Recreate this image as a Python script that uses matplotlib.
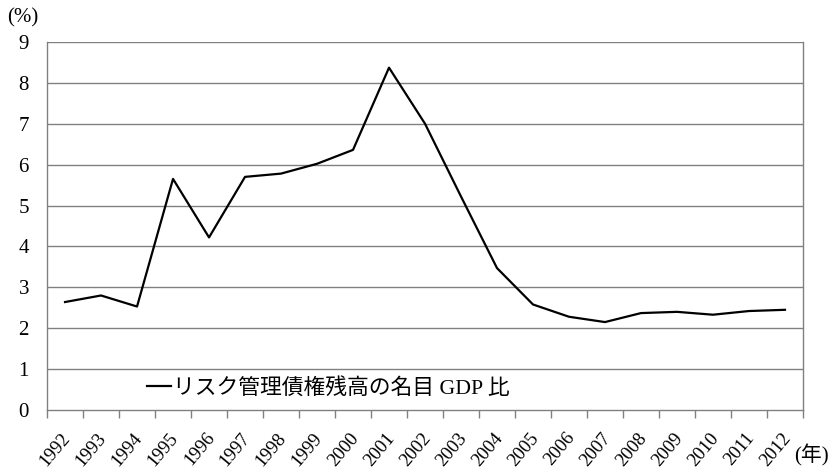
import numpy as np
import matplotlib.pyplot as plt
import matplotlib.transforms as mtrans

# data
years = [str(y) for y in range(1992, 2013)]
ratio = [2.64, 2.80, 2.53, 5.65, 4.22, 5.70, 5.78, 6.02, 6.36, 8.37, 7.00,
         5.22, 3.47, 2.58, 2.28, 2.15, 2.37, 2.40, 2.33, 2.42, 2.45]
series_label = 'リスク管理債権残高の名目 GDP 比'

fonts = ['Liberation Serif', 'Noto Sans CJK JP']
plt.rcParams['font.family'] = fonts

fig = plt.figure(figsize=(8.34, 4.74), dpi=100)
ax = fig.add_axes([0.0564, 0.135, 0.9064, 0.7766])

x = np.arange(len(years))
ax.plot(x, ratio, color='black', lw=1.6, label=series_label)

ax.set_xlim(-0.5, len(years) - 0.5)
ax.set_ylim(0, 9)
ax.set_yticks(range(0, 10))
ax.tick_params(axis='y', length=0, labelsize=15, pad=13)
for yv in range(1, 10):
    ax.axhline(yv, color='#808080', lw=1, zorder=0)

# x ticks at category boundaries, labels at centers
ax.set_xticks(np.arange(-0.5, len(years)), minor=False)
ax.set_xticklabels([])
ax.tick_params(axis='x', length=6, width=1, color='#808080', direction='out')
ax.set_xticks(x, minor=True)
ax.set_xticklabels(years, minor=True, rotation=50, ha='right',
                   rotation_mode='anchor', fontsize=13.5)
ax.tick_params(axis='x', which='minor', length=0, pad=14)
shift = mtrans.ScaledTranslation(-4 / 100, 0, fig.dpi_scale_trans)
for lab in ax.get_xticklabels(minor=True):
    lab.set_transform(lab.get_transform() + shift)

for s in ['left', 'right', 'bottom']:
    ax.spines[s].set_color('#808080')
    ax.spines[s].set_linewidth(1)
ax.spines['top'].set_visible(False)

ax.legend(loc='lower left', bbox_to_anchor=(0.118, 0.0), frameon=False,
          handlelength=1.1, handletextpad=0.1, fontsize=15.7,
          borderpad=0.2, borderaxespad=0.3)

fig.text(0.008, 0.962, '(%)', fontsize=15, ha='left', va='center')
fig.text(0.952, 0.04, '(年)', fontsize=15, ha='left', va='center')

fig.savefig('out.png', dpi=100)
